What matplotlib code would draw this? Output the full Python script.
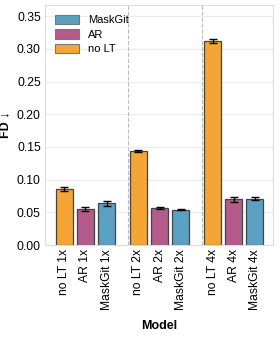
import matplotlib
matplotlib.use("Agg")
import matplotlib.pyplot as plt
from matplotlib.patches import Patch

plt.rcParams['font.family'] = ['Liberation Sans', 'DejaVu Sans']

labels = ["no LT 1x", "AR 1x", "MaskGit 1x",
          "no LT 2x", "AR 2x", "MaskGit 2x",
          "no LT 4x", "AR 4x", "MaskGit 4x"]
methods = ["no LT", "AR", "MaskGit"] * 3
values = [0.086, 0.055, 0.064, 0.144, 0.057, 0.054, 0.312, 0.070, 0.071]
errors = [0.003, 0.003, 0.004, 0.0015, 0.0015, 0.001, 0.003, 0.004, 0.002]
positions = [0, 1, 2, 3.5, 4.5, 5.5, 7, 8, 9]
dividers = [3.0, 6.5]
colors = {"no LT": "#F5A534", "AR": "#B45B8B", "MaskGit": "#5AA0C2"}
legend_order = ["MaskGit", "AR", "no LT"]

fig = plt.figure(figsize=(2.8, 3.37), dpi=100)
ax = fig.add_axes([45/280, 1-245/337, (273-45)/280, (245-5)/337])

ax.set_axisbelow(True)
ax.grid(axis='y', color='#ebebeb', linewidth=0.8)
ax.bar(positions, values, width=0.8, color=[colors[m] for m in methods],
       edgecolor='#444444', linewidth=0.9, zorder=2)
ax.errorbar(positions, values, yerr=errors, fmt='none', ecolor='black',
            elinewidth=1.0, capsize=3, capthick=1.0, zorder=3)
for d in dividers:
    ax.axvline(d, color='#bbbbbb', linestyle='--', linewidth=0.8, zorder=1)

ax.set_xlim(-0.9, 9.85)
ax.set_ylim(0, 0.367)
yt = [0, 0.05, 0.10, 0.15, 0.20, 0.25, 0.30, 0.35]
ax.set_yticks(yt)
ax.set_yticklabels([f"{v:.2f}" for v in yt], fontsize=8.7)
ax.set_xticks(positions)
ax.set_xticklabels(labels, rotation=90, fontsize=8.7)
ax.tick_params(axis='both', length=0, pad=3)
for s in ax.spines.values():
    s.set_color('#dddddd')
    s.set_linewidth(0.8)

ax.set_ylabel("FD ↓", fontsize=9, fontweight='bold', labelpad=4)
ax.set_xlabel("Model", fontsize=9, fontweight='bold', labelpad=7)

handles = [Patch(facecolor=colors[m], edgecolor='#777777', linewidth=0.8, label=m)
           for m in legend_order]
ax.legend(handles=handles, loc='upper left', fontsize=8, frameon=False,
          handlelength=2.2, handleheight=0.9, borderaxespad=0.5,
          labelspacing=0.35, bbox_to_anchor=(0.0, 1.0))

fig.savefig("out.png", dpi=100, facecolor='white')
